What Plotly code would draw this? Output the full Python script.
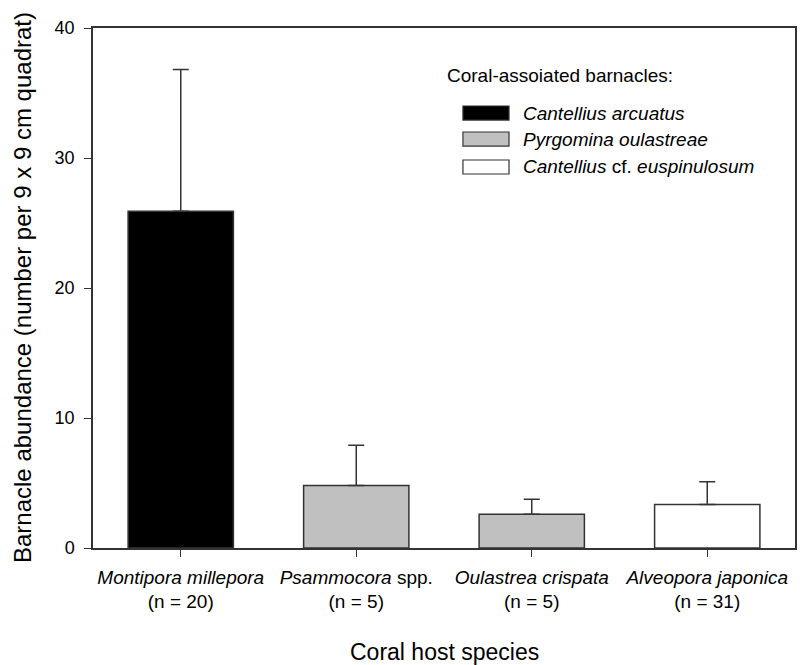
import plotly.graph_objects as go

categories = ["<i>Montipora millepora</i><br>(n = 20)",
              "<i>Psammocora</i> spp.<br>(n = 5)",
              "<i>Oulastrea crispata</i><br>(n = 5)",
              "<i>Alveopora japonica</i><br>(n = 31)"]
means = [25.9, 4.8, 2.6, 3.35]
errors = [10.9, 3.1, 1.15, 1.75]
bar_colors = ["#000000", "#c0c0c0", "#c0c0c0", "#ffffff"]
legend_title = "Coral-assoiated barnacles:"
legend_names = ["<i>Cantellius arcuatus</i>",
                "<i>Pyrgomina oulastreae</i>",
                "<i>Cantellius</i> cf. <i>euspinulosum</i>"]
legend_colors = ["#000000", "#c0c0c0", "#ffffff"]
y_ticks = [0, 10, 20, 30, 40]
x_title = "Coral host species"
y_title = "Barnacle abundance (number per 9 x 9 cm quadrat)"

FONT = "Liberation Sans, Arial, sans-serif"

fig = go.Figure()
fig.add_trace(go.Bar(
    x=list(range(len(categories))), y=means, width=0.6,
    marker=dict(color=bar_colors, line=dict(color="#333333", width=1.5)),
    error_y=dict(type="data", symmetric=False, array=errors,
                 arrayminus=[0] * len(errors), color="#333333",
                 thickness=1.5, width=8),
    showlegend=False,
))

# custom legend
shapes = []
annotations = [dict(x=0.502, y=0.9096, xref="paper", yref="paper",
                    text=legend_title, showarrow=False,
                    xanchor="left", yanchor="middle",
                    font=dict(family=FONT, size=19, color="#000"))]
ys = [0.8365, 0.7865, 0.7327]
for name, col, yc in zip(legend_names, legend_colors, ys):
    shapes.append(dict(type="rect", xref="paper", yref="paper",
                       x0=0.527, x1=0.5926, y0=yc - 0.0135, y1=yc + 0.0135,
                       fillcolor=col, line=dict(color="#333333", width=1.2)))
    annotations.append(dict(x=0.6097, y=yc, xref="paper", yref="paper",
                            text=name, showarrow=False, xanchor="left",
                            yanchor="middle",
                            font=dict(family=FONT, size=19, color="#000")))

# axis titles
annotations.append(dict(x=-71 / 702, y=0.5, xref="paper", yref="paper",
                        text=y_title, showarrow=False, textangle=-90,
                        xanchor="center", yanchor="middle",
                        font=dict(family=FONT, size=24, color="#000")))
annotations.append(dict(x=0.5, y=-104 / 520, xref="paper", yref="paper",
                        text=x_title, showarrow=False,
                        xanchor="center", yanchor="middle",
                        font=dict(family=FONT, size=23, color="#000")))

fig.update_layout(
    width=802, height=657,
    margin=dict(l=85, r=15, t=20, b=117),
    plot_bgcolor="white", paper_bgcolor="white",
    font=dict(family=FONT, size=19, color="#000"),
    shapes=shapes, annotations=annotations,
    xaxis=dict(range=[-0.5, 3.5], tickmode="array",
               tickvals=list(range(len(categories))), ticktext=categories,
               ticks="outside", ticklen=7, tickwidth=1.2, tickcolor="#333",
               showline=True, linecolor="#333", linewidth=1.5, mirror=True,
               showgrid=False, zeroline=False, automargin=False,
               ticklabelstandoff=4, tickfont=dict(size=19)),
    yaxis=dict(range=[0, 40], tickvals=y_ticks,
               ticks="outside", ticklen=7, tickwidth=1.2, tickcolor="#333",
               showline=True, linecolor="#333", linewidth=1.5, mirror=True,
               showgrid=False, zeroline=False, automargin=False,
               ticklabelstandoff=6, tickfont=dict(size=18)),
)

fig.write_html("out.html")
